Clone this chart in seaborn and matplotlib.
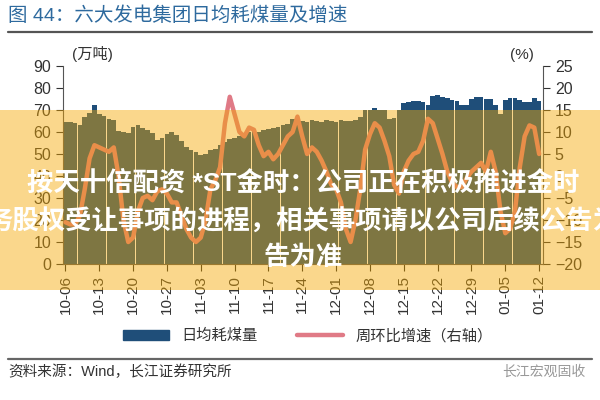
import numpy as np
import pandas as pd
import matplotlib as mpl
import matplotlib.pyplot as plt
import seaborn as sns
from matplotlib.patches import Patch, Rectangle
from matplotlib.lines import Line2D

sns.set_style('white')
plt.rcParams['font.family'] = ['Liberation Sans', 'Noto Sans CJK SC', 'DejaVu Sans']

# daily dates 10-06 .. 01-12
dates = pd.date_range('2016-10-06', '2017-01-12').strftime('%m-%d').tolist()

# 日均耗煤量 (万吨)
coal = [64.7, 64.7, 64.2, 63.2, 67.0, 68.8, 72.5, 68.0, 67.5, 66.0,
        65.5, 60.5, 60.0, 59.5, 62.5, 63.0, 62.0, 61.0, 59.5, 56.5,
        57.5, 59.0, 60.0, 58.5, 56.0, 53.0, 52.0, 51.0, 49.5, 50.0,
        51.8, 52.5, 54.0, 55.5, 57.0, 57.5, 58.0, 59.0, 60.0, 60.5,
        60.0, 61.0, 61.5, 62.0, 62.5, 63.0, 63.5, 66.0, 65.5, 65.0,
        64.5, 65.5, 65.0, 64.5, 65.5, 65.0, 64.5, 65.5, 65.0, 65.0,
        65.5, 67.0, 70.0, 70.0, 71.0, 70.0, 70.0, 66.0, 66.5, 70.0,
        73.0, 73.5, 74.0, 74.0, 73.5, 72.5, 76.5, 77.0, 76.0, 75.5,
        74.5, 74.0, 72.5, 72.5, 75.0, 76.0, 76.0, 75.0, 75.0, 72.5,
        68.0, 74.5, 75.5, 75.5, 74.5, 73.5, 73.5, 75.5, 74.0]

# 周环比增速 (%)
growth = [-10.5, -11.0, -11.0, -9.0, -3.0, 4.0, 7.0, 6.5, 6.0, 5.5,
          6.5, 0.0, -10.0, -15.0, -14.0, -8.0, -5.0, -4.5, -5.5, -3.5,
          -3.0, -4.0, -6.0, -6.0, -9.0, -12.0, -14.0, -15.0, -14.0, -10.0,
          -3.0, -1.0, 2.0, 12.0, 18.0, 14.0, 10.0, 9.0, 11.0, 10.5,
          7.0, 4.5, 5.5, 3.8, 5.0, 7.0, 9.0, 10.0, 13.5, 9.0,
          5.0, 6.5, 5.5, 3.5, 1.0, -2.0, -3.0, -6.0, -12.0, -15.0,
          -10.0, -3.0, 6.0, 9.5, 12.0, 11.0, 8.0, 4.5, -2.0, -4.0,
          1.0, 3.5, 5.0, 5.5, 8.0, 13.0, 12.0, 8.5, 5.0, 1.0,
          -1.5, -2.5, -2.5, -0.5, 1.0, 2.0, 3.0, 1.0, 5.5, 1.0,
          -8.0, -13.0, -12.0, -8.0, 2.0, 9.0, 11.5, 11.0, 5.0]

left_ticks = [0, 10, 20, 30, 40, 50, 60, 70, 80, 90]
right_ticks = [-20, -15, -10, -5, 0, 5, 10, 15, 20, 25]

bar_color = '#1F4E79'
line_color = '#E07A86'
txt = '#333333'

df = pd.DataFrame({'date': dates, 'coal': coal, 'growth': growth})
df['pos'] = np.arange(len(df))

fig = plt.figure(figsize=(6, 4), dpi=100)
ax = fig.add_axes([0.105, 0.34, 0.80, 0.495])

sns.barplot(data=df, x='date', y='coal', color=bar_color, saturation=1,
            width=0.96, linewidth=0, ax=ax, order=dates)
ax.set_ylim(0, 90)
ax.set_xlim(-0.5, 98.8)
ax.set_yticks(left_ticks)
ax.set_xlabel('')
ax.set_ylabel('')
week = list(range(0, len(dates), 7))
ax.set_xticks(week)
ax.set_xticklabels([dates[i] for i in week], rotation=90, fontsize=11, color=txt)
ax.tick_params(axis='y', labelsize=11.5, colors=txt, length=5, width=0.8, direction='out', left=True)
ax.tick_params(axis='x', length=5, width=0.8, direction='out', bottom=True, pad=3)
for s in ['top', 'right']:
    ax.spines[s].set_visible(False)
for s in ['left', 'bottom']:
    ax.spines[s].set_color('#555555')
    ax.spines[s].set_linewidth(0.8)

ax2 = ax.twinx()
sns.lineplot(data=df, x='pos', y='growth', color=line_color, linewidth=3.2, ax=ax2,
             solid_capstyle='round', solid_joinstyle='round')
ax2.set_ylim(-20, 25)
ax2.set_yticks(right_ticks)
ax2.set_ylabel('')
ax2.tick_params(axis='y', labelsize=11.5, colors=txt, length=5, width=0.8, direction='out', right=True)
for s in ['top', 'left', 'bottom']:
    ax2.spines[s].set_visible(False)
ax2.spines['right'].set_color('#555555')
ax2.spines['right'].set_linewidth(0.8)
ax2.set_xlim(-0.5, 98.8)

fig.text(0.12, 0.845, '(万吨)', fontsize=11, color=txt, va='bottom')
fig.text(0.85, 0.845, '(%)', fontsize=11, color=txt, va='bottom')

handles = [Patch(color=bar_color), Line2D([0], [0], color=line_color, linewidth=3.2)]
fig.legend(handles, ['日均耗煤量', '周环比增速（右轴）'], loc='center',
           bbox_to_anchor=(0.513, 0.16), ncol=2, frameon=False, fontsize=11,
           handlelength=3.0, handleheight=0.7, columnspacing=2.6, labelcolor=txt)

# header and footer
fig.text(0.013, 0.962, '图 44：六大发电集团日均耗煤量及增速', fontsize=14,
         color='#2E6A9E', va='center')
fig.add_artist(Line2D([0.013, 0.987], [0.92, 0.92], color='#555555', linewidth=1.6,
                      transform=fig.transFigure))
fig.add_artist(Line2D([0.013, 0.987], [0.102, 0.102], color='#666666', linewidth=1.6,
                      transform=fig.transFigure))
fig.text(0.013, 0.07, '资料来源：Wind，长江证券研究所', fontsize=10.5, color=txt, va='center')
fig.text(0.975, 0.07, '长江宏观固收', fontsize=10, color='#999999', va='center', ha='right')

# translucent banner overlay
fig.add_artist(Rectangle((0, 0.275), 1, 0.45, transform=fig.transFigure,
                         facecolor='#F4A700', alpha=0.45, edgecolor='none', zorder=10))
for y, s in [(0.543, '按天十倍配资 *ST金时：公司正在积极推进金时'),
             (0.445, '务股权受让事项的进程，相关事项请以公司后续公告为'),
             (0.355, '告为准')]:
    fig.text(0.505, y, s, fontsize=19, color='white', fontweight='bold',
             ha='center', va='center', zorder=11)

fig.savefig('out.png', dpi=100)
